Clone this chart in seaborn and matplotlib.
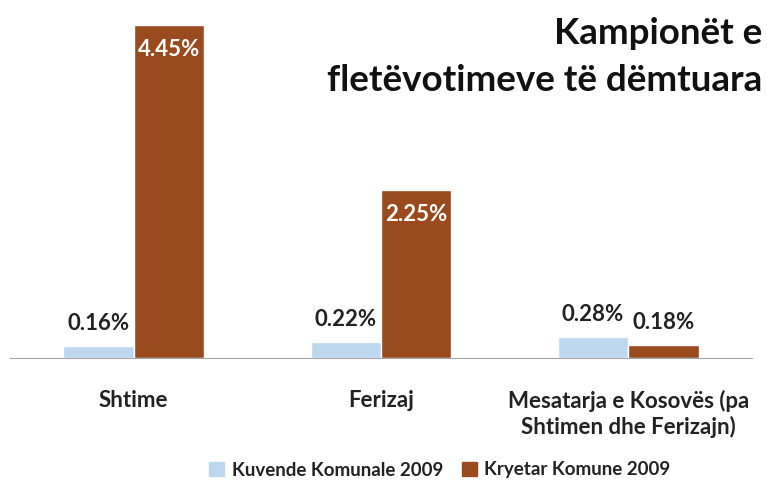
import seaborn as sns
import matplotlib.pyplot as plt
import pandas as pd

categories = ['Shtime', 'Ferizaj', 'Mesatarja e Kosovës (pa\nShtimen dhe Ferizajn)']
series = ['Kuvende Komunale 2009', 'Kryetar Komune 2009']
kuvende = [0.16, 0.22, 0.28]
kryetar = [4.45, 2.25, 0.18]
colors = ['#BDD7EE', '#9A4A1F']

df = pd.DataFrame({
    'category': categories * 2,
    'series': [series[0]] * 3 + [series[1]] * 3,
    'value': kuvende + kryetar,
})

sns.set_style('white')
plt.rcParams['font.family'] = ['Lato', 'DejaVu Sans']

fig = plt.figure(figsize=(7.67, 4.92), dpi=100)
ax = fig.add_axes([10 / 767, 134 / 492, 742 / 767, 333 / 492])

sns.barplot(data=df, x='category', y='value', hue='series', palette=colors,
            width=0.57, saturation=1, ax=ax, legend=False)

ax.set_xlim(-0.5, 2.5)
ax.set_ylim(0, 4.45)
for s in ['top', 'right', 'left']:
    ax.spines[s].set_visible(False)
ax.spines['bottom'].set_color('#A6A6A6')
ax.set_yticks([])
ax.set_xlabel('')
ax.set_ylabel('')
ax.set_xticks(range(3))
ax.set_xticklabels(categories, fontsize=16, fontweight='bold', color='#222222',
                   linespacing=1.2)
ax.tick_params(axis='x', which='major', length=0, pad=23)
ax.set_xticks([-0.5, 0.5, 1.5, 2.5], minor=True)
ax.tick_params(axis='x', which='minor', length=7, color='#A6A6A6', direction='out')

for i, cont in enumerate(ax.containers):
    for bar, v in zip(cont, df[df['series'] == series[i]]['value']):
        x = bar.get_x() + bar.get_width() / 2
        if v > 1:
            ax.text(x, v - 0.33, f'{v:.2f}%', ha='center', va='center', color='white',
                    fontsize=16, fontweight='bold')
        else:
            ax.text(x, v + 0.30, f'{v:.2f}%', ha='center', va='center', color='#222222',
                    fontsize=16, fontweight='bold')

fig.text(762 / 767, 1 - 57 / 492, 'Kampionët e\nfletëvotimeve të dëmtuara', ha='right', va='center',
         fontsize=26.5, fontweight='bold', color='#111111', linespacing=1.5)

handles = [plt.Rectangle((0, 0), 1, 1, color=c) for c in colors]
fig.legend(handles, series, loc='center', bbox_to_anchor=(440 / 767, 1 - 470 / 492), ncol=2,
           frameon=False, prop={'size': 13.5, 'weight': 'bold'}, handlelength=0.8,
           handleheight=0.8, handletextpad=0.4, columnspacing=1.0)
for t in fig.legends[0].get_texts():
    t.set_color('#222222')

fig.savefig('out.png', dpi=100)
